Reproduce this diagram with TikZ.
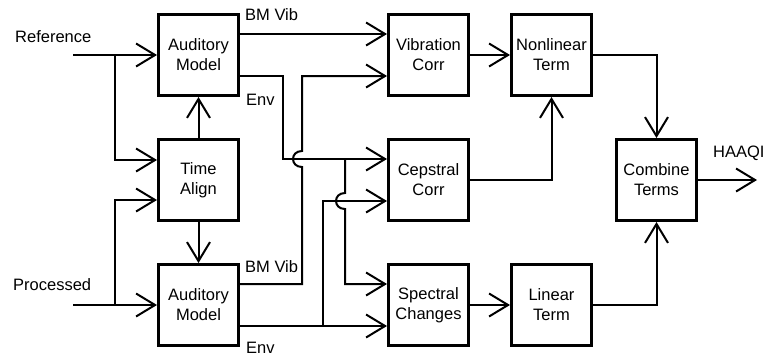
\documentclass[tikz,border=0pt]{standalone}
\usepackage{fontspec}
\setmainfont{Liberation Sans}
\usetikzlibrary{arrows.meta,positioning}

\begin{document}
\begin{tikzpicture}[x=1pt,y=-1pt,font=\fontsize{16.5}{20}\selectfont,
  blk/.style={draw,line width=3.4pt,minimum width=79.6pt,minimum height=80.6pt,align=center,inner sep=0pt},
  arr/.style={-{Straight Barb[length=19pt,width=23pt]},line width=2pt},
  lbl/.style={inner sep=0pt,anchor=base west}]
\useasboundingbox (0,0) rectangle (765,360);
% blocks
\node[blk] (amref) at (198.5,55) {Auditory\\Model};
\node[blk,below=41pt of amref] (align) {Time\\Align};
\node[blk,below=41pt of align] (amproc) {Auditory\\Model};
\node[blk,right=147pt of amref] (vibcorr) {Vibration\\Corr};
\node[blk,below=41pt of vibcorr] (cepcorr) {Cepstral\\Corr};
\node[blk,below=41pt of cepcorr] (spec) {Spectral\\Changes};
\node[blk,right=40pt of vibcorr] (nonlin) {Nonlinear\\Term};
\node[blk,right=40pt of spec] (linterm) {Linear\\Term};
\node[blk,right=145pt of cepcorr] (combine) {Combine\\Terms};
% labels
\node[lbl] (reflbl) at (15,42) {Reference};
\node[lbl] (proclbl) at (13,290) {Processed};
\node[lbl] (bmref) at (245,20) {BM Vib};
\node[lbl] (envref) at (246,105) {Env};
\node[lbl] (bmproc) at (245,272) {BM Vib};
\node[lbl] (envproc) at (246,353) {Env};
\node[lbl] (haaqi) at (713,157) {HAAQI};
% ends and split points
\coordinate (refin) at (73,55);
\coordinate (procin) at (73,305);
\coordinate (refsplit) at (115,55);
\coordinate (procsplit) at (115,305);
\coordinate (envsplit) at (345,159);
\coordinate (penvsplit) at (323,326);
\coordinate (out) at (757,180);
% inputs and time alignment
\draw[arr] (refin) -- (amref);
\draw[arr] (procin) -- (amproc);
\draw[arr] (refsplit) |- ([yshift=20pt]align.west);
\draw[arr] (procsplit) |- ([yshift=-20pt]align.west);
\draw[arr] (align) -- (amref);
\draw[arr] (align) -- (amproc);
% auditory model outputs
\draw[arr] ([yshift=21pt]amref.east) -- ([yshift=21pt]vibcorr.west);
\draw[arr] ([yshift=-21pt]amref.east) -| (283,159) -- ([yshift=21pt]cepcorr.west);
\draw[arr] ([yshift=21pt]amproc.east) -| (302,167) .. controls (290,167) and (290,151) .. (302,151) |- ([yshift=-21pt]vibcorr.west);
\draw[arr] ([yshift=-21pt]amproc.east) -- ([yshift=-21pt]spec.west);
\draw[arr] (envsplit) -- (345,193) .. controls (333,193) and (333,209) .. (345,209) |- ([yshift=21pt]spec.west);
\draw[arr] (penvsplit) |- ([yshift=-21pt]cepcorr.west);
% terms
\draw[arr] (vibcorr) -- (nonlin);
\draw[arr] (spec) -- (linterm);
\draw[arr] (cepcorr.east) -| (nonlin.south);
\draw[arr] (nonlin.east) -| (combine.north);
\draw[arr] (linterm.east) -| (combine.south);
\draw[arr] (combine) -- (out);
\end{tikzpicture}
\end{document}
